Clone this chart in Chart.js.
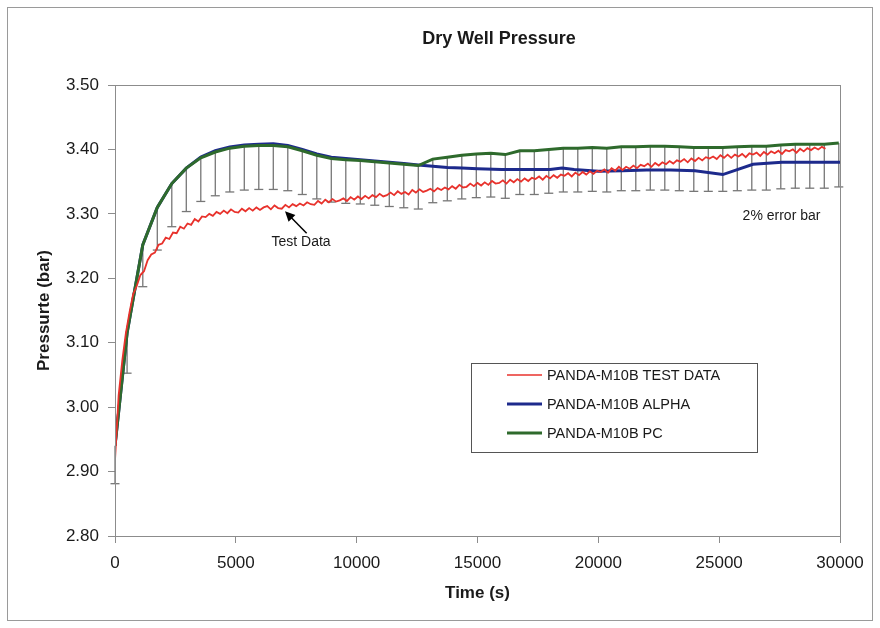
<!DOCTYPE html>
<html>
<head>
<meta charset="utf-8">
<title>Dry Well Pressure</title>
<script src="https://cdn.jsdelivr.net/npm/chart.js@4.4.0/dist/chart.umd.min.js"></script>
<style>
  html, body { margin: 0; padding: 0; background: #fff; }
  #wrap { width: 880px; height: 628px; }
</style>
</head>
<body>
<div id="wrap"><canvas id="myChart" width="880" height="628"></canvas></div>
<script>
// PANDA-M10B test record, one sample every testStep seconds starting at t = 0
const testStep = 150;
const testValues = [
    2.918, 3.018, 3.072, 3.115, 3.147, 3.175, 3.188, 3.205, 3.211, 3.228,
    3.237, 3.240, 3.252, 3.254, 3.263, 3.261, 3.271, 3.270, 3.280, 3.277,
    3.285, 3.283, 3.292, 3.288, 3.296, 3.295, 3.300, 3.297, 3.303, 3.300,
    3.305, 3.301, 3.307, 3.303, 3.302, 3.308, 3.304, 3.309, 3.305, 3.310,
    3.306, 3.310, 3.312, 3.307, 3.313, 3.309, 3.308, 3.314, 3.310, 3.315,
    3.312, 3.316, 3.313, 3.318, 3.315, 3.314, 3.320, 3.316, 3.322, 3.318,
    3.323, 3.319, 3.321, 3.324, 3.320, 3.326, 3.322, 3.327, 3.323, 3.328,
    3.324, 3.329, 3.326, 3.331, 3.327, 3.329, 3.333, 3.329, 3.335, 3.331,
    3.334, 3.330, 3.337, 3.333, 3.338, 3.334, 3.336, 3.339, 3.335, 3.340,
    3.337, 3.341, 3.338, 3.343, 3.339, 3.345, 3.341, 3.342, 3.347, 3.343,
    3.348, 3.344, 3.349, 3.345, 3.351, 3.347, 3.348, 3.352, 3.347, 3.353,
    3.349, 3.354, 3.350, 3.355, 3.351, 3.356, 3.354, 3.358, 3.353, 3.359,
    3.355, 3.360, 3.356, 3.361, 3.359, 3.363, 3.358, 3.364, 3.360, 3.365,
    3.361, 3.366, 3.362, 3.367, 3.365, 3.369, 3.364, 3.371, 3.367, 3.373,
    3.368, 3.373, 3.370, 3.375, 3.371, 3.376, 3.374, 3.378, 3.373, 3.379,
    3.375, 3.380, 3.377, 3.382, 3.378, 3.383, 3.381, 3.385, 3.380, 3.386,
    3.382, 3.387, 3.383, 3.388, 3.386, 3.389, 3.385, 3.391, 3.387, 3.392,
    3.387, 3.392, 3.389, 3.393, 3.388, 3.394, 3.392, 3.395, 3.390, 3.396,
    3.392, 3.397, 3.394, 3.398, 3.393, 3.399, 3.397, 3.400, 3.395, 3.401,
    3.397, 3.402, 3.399, 3.403, 3.400, 3.404, 3.401
];

// ALPHA calculation
const alphaTimes = [0, 500, 1150, 1750, 2350, 2950, 3550, 4150, 4750, 5350, 5950, 6550, 7150, 7750, 8350,
    8950, 9550, 10150, 10750, 11350, 11950, 12550, 13150, 13750, 14350, 15000, 16000, 17000, 18000, 18500,
    19000, 20000, 21000, 22000, 23000, 24000, 25150, 26400, 27600, 30000];
const alphaValues = [2.940, 3.115, 3.252, 3.310, 3.347, 3.371, 3.388, 3.398, 3.404, 3.407, 3.408, 3.409, 3.406, 3.400, 3.393,
    3.388, 3.386, 3.384, 3.382, 3.380, 3.378, 3.376, 3.374, 3.372, 3.371, 3.370, 3.369, 3.369, 3.369, 3.371,
    3.369, 3.366, 3.367, 3.368, 3.368, 3.367, 3.361, 3.377, 3.380, 3.380];

// PC calculation (the 2% error bars hang from these points)
const pcTimes = [0, 500, 1150, 1750, 2350, 2950, 3550, 4150, 4750, 5350, 5950, 6550, 7150, 7750, 8350,
    8950, 9550, 10150, 10750, 11350, 11950, 12550, 13150, 13750, 14350, 14950, 15550, 16150, 16750, 17350,
    17950, 18550, 19150, 19750, 20350, 20950, 21550, 22150, 22750, 23350, 23950, 24550, 25150, 25750, 26350,
    26950, 27550, 28150, 28750, 29350, 29950];
const pcValues = [2.940, 3.115, 3.252, 3.310, 3.347, 3.371, 3.387, 3.396, 3.402, 3.405, 3.406, 3.406, 3.404, 3.398, 3.391,
    3.386, 3.384, 3.383, 3.381, 3.379, 3.377, 3.375, 3.385, 3.388, 3.391, 3.393, 3.394, 3.392, 3.398, 3.398,
    3.400, 3.402, 3.402, 3.403, 3.402, 3.404, 3.404, 3.405, 3.405, 3.404, 3.403, 3.403, 3.403, 3.404, 3.405,
    3.405, 3.407, 3.408, 3.408, 3.408, 3.410];
const errorPercent = 2;

const seriesLabels = ['PANDA-M10B TEST DATA', 'PANDA-M10B ALPHA', 'PANDA-M10B PC'];
const xTicks = [0, 5000, 10000, 15000, 20000, 25000, 30000];
const yMin = 2.8, yMax = 3.5, yStep = 0.1;

const FONT = '"Liberation Sans", Arial, sans-serif';
const AXIS_GREY = '#8c8c8c';

function buildTestPoints() {
    return testValues.map((v, i) => ({ x: i * testStep, y: v }));
}

function buildPoints(times, values) {
    return times.map((t, i) => ({ x: t, y: values[i] }));
}

function buildErrorBars() {
    // vertical segment from each PC point down by 2%, separated by gaps
    const pts = [];
    pcTimes.forEach((t, i) => {
        const v = pcValues[i];
        pts.push({ x: t, y: v });
        pts.push({ x: t, y: v * (1 - errorPercent / 100) });
        pts.push({ x: t, y: null });
    });
    return pts;
}

// white page, outer frame, plot border, title
const framePlugin = {
    id: 'frame',
    beforeDraw(chart) {
        const ctx = chart.ctx;
        ctx.save();
        ctx.fillStyle = '#fff';
        ctx.fillRect(0, 0, chart.width, chart.height);
        ctx.strokeStyle = '#9a9a9a';
        ctx.lineWidth = 1;
        ctx.strokeRect(7.5, 7.5, 865, 613);
        ctx.restore();
    },
    afterDraw(chart) {
        const ctx = chart.ctx;
        const a = chart.chartArea;
        ctx.save();
        ctx.strokeStyle = AXIS_GREY;
        ctx.lineWidth = 1;
        ctx.strokeRect(a.left + 0.5, a.top + 0.5, a.right - a.left, a.bottom - a.top);
        ctx.fillStyle = '#1a1a1a';
        ctx.font = 'bold 18px ' + FONT;
        ctx.textAlign = 'center';
        ctx.textBaseline = 'middle';
        ctx.fillText('Dry Well Pressure', 499, 39);
        ctx.restore();
    }
};

// legend box, "Test Data" arrow and "2% error bar" note
const notesPlugin = {
    id: 'notes',
    afterDatasetsDraw(chart) {
        const ctx = chart.ctx;
        const xs = chart.scales.x, ys = chart.scales.y;
        const a = chart.chartArea;
        ctx.save();

        // legend
        const lx = a.left + 356, ly = a.top + 278, lw = 286, lh = 89;
        ctx.fillStyle = '#fff';
        ctx.fillRect(lx, ly, lw, lh);
        ctx.strokeStyle = '#555';
        ctx.lineWidth = 1;
        ctx.strokeRect(lx + 0.5, ly + 0.5, lw, lh);
        ctx.font = '14.5px ' + FONT;
        ctx.textAlign = 'left';
        ctx.textBaseline = 'middle';
        [0, 1, 2].forEach(i => {
            const ds = chart.data.datasets[i];
            const yy = ly + 12 + i * 29;
            ctx.strokeStyle = ds.borderColor;
            ctx.lineWidth = i === 0 ? 1.5 : 3;
            ctx.beginPath();
            ctx.moveTo(lx + 36, yy);
            ctx.lineTo(lx + 71, yy);
            ctx.stroke();
            ctx.fillStyle = '#1a1a1a';
            ctx.fillText(ds.label, lx + 76, yy + 1);
        });

        // arrow pointing at the test curve
        const tipX = xs.getPixelForValue(7035), tipY = ys.getPixelForValue(3.304);
        const tailX = xs.getPixelForValue(7930), tailY = ys.getPixelForValue(3.270);
        const ang = Math.atan2(tipY - tailY, tipX - tailX);
        ctx.strokeStyle = '#000';
        ctx.fillStyle = '#000';
        ctx.lineWidth = 1.5;
        ctx.beginPath();
        ctx.moveTo(tailX, tailY);
        ctx.lineTo(tipX - Math.cos(ang) * 6, tipY - Math.sin(ang) * 6);
        ctx.stroke();
        ctx.beginPath();
        ctx.moveTo(tipX, tipY);
        ctx.lineTo(tipX - Math.cos(ang - 0.45) * 11, tipY - Math.sin(ang - 0.45) * 11);
        ctx.lineTo(tipX - Math.cos(ang + 0.45) * 11, tipY - Math.sin(ang + 0.45) * 11);
        ctx.closePath();
        ctx.fill();

        ctx.fillStyle = '#1a1a1a';
        ctx.font = '14px ' + FONT;
        ctx.textAlign = 'center';
        ctx.fillText('Test Data', xs.getPixelForValue(7700), ys.getPixelForValue(3.256));
        ctx.textAlign = 'left';
        ctx.fillText('2% error bar', xs.getPixelForValue(25970), ys.getPixelForValue(3.296));
        ctx.restore();
    }
};

const ctx = document.getElementById('myChart').getContext('2d');
const myChart = new Chart(ctx, {
    type: 'line',
    data: {
        datasets: [
            {
                label: seriesLabels[0],
                data: buildTestPoints(),
                borderColor: '#e8322c',
                borderWidth: 1.8,
                pointRadius: 0,
                tension: 0,
                order: 0
            },
            {
                label: seriesLabels[1],
                data: buildPoints(alphaTimes, alphaValues),
                borderColor: '#1d2a8c',
                borderWidth: 3,
                pointRadius: 0,
                tension: 0,
                order: 2
            },
            {
                label: seriesLabels[2],
                data: buildPoints(pcTimes, pcValues),
                borderColor: '#2e6a2c',
                borderWidth: 3,
                pointRadius: 0,
                tension: 0,
                order: 1
            },
            {
                label: 'error',
                data: buildErrorBars(),
                borderColor: '#777',
                borderWidth: 1.3,
                spanGaps: false,
                tension: 0,
                pointStyle: 'line',
                pointRadius: c => (c.index % 3 === 1 ? 4.5 : 0),
                pointBorderColor: '#777',
                pointBorderWidth: 1.3,
                clip: false,
                order: 3
            }
        ]
    },
    options: {
        responsive: false,
        animation: false,
        layout: { padding: { left: 30, top: 85, right: 40, bottom: 20 } },
        plugins: {
            legend: { display: false },
            title: { display: false },
            tooltip: { enabled: false }
        },
        scales: {
            x: {
                type: 'linear',
                min: 0,
                max: 30000,
                afterFit: s => { s.height = 72; },
                afterBuildTicks: s => { s.ticks = xTicks.map(v => ({ value: v })); },
                grid: { drawOnChartArea: false, drawTicks: true, tickLength: 7, color: AXIS_GREY },
                border: { display: true, color: AXIS_GREY },
                ticks: { color: '#1a1a1a', font: { family: FONT, size: 17 }, padding: 10, maxRotation: 0,
                         callback: v => String(v) },
                title: { display: true, text: 'Time (s)', color: '#1a1a1a',
                         font: { family: FONT, size: 17, weight: 'bold' }, padding: { top: 4, bottom: 4 } }
            },
            y: {
                min: yMin,
                max: yMax,
                afterFit: s => { s.width = 85; },
                grid: { drawOnChartArea: false, drawTicks: true, tickLength: 7, color: AXIS_GREY },
                border: { display: true, color: AXIS_GREY },
                ticks: { stepSize: yStep, color: '#1a1a1a', font: { family: FONT, size: 17 }, padding: 9,
                         callback: v => v.toFixed(2) },
                title: { display: true, text: 'Pressurte (bar)', color: '#1a1a1a',
                         font: { family: FONT, size: 17, weight: 'bold' }, padding: { top: 4, bottom: 4 } }
            }
        }
    },
    plugins: [framePlugin, notesPlugin]
});
</script>
</body>
</html>
